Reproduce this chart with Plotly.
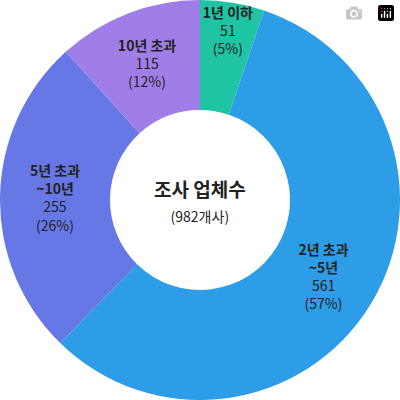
import plotly.graph_objects as go

labels = ["1년 이하", "2년 초과~5년", "5년 초과~10년", "10년 초과"]
display = ["1년 이하", "2년 초과<br>~5년", "5년 초과<br>~10년", "10년 초과"]
values = [51, 561, 255, 115]
colors = ["#1ec4a4", "#2c9de6", "#6678e6", "#a07ee8"]

fig = go.Figure(go.Pie(
    labels=labels, values=values, customdata=display,
    hole=0.45, sort=False, direction="clockwise", rotation=0,
    domain=dict(x=[0, 1], y=[0, 1]),
    marker=dict(colors=colors, line=dict(width=0)),
    texttemplate="<b>%{customdata}</b><br>%{value}<br>(%{percent:.0%})",
    textposition="inside", insidetextorientation="horizontal",
    textfont=dict(family="Noto Sans CJK KR", size=14, color="#222222"),
    hoverinfo="skip", showlegend=False,
))
fig.add_annotation(text="<b>조사 업체수</b><br><span style='font-size:14px'>(982개사)</span>",
                   x=0.5, y=0.5, xref="paper", yref="paper", showarrow=False,
                   font=dict(family="Noto Sans CJK KR", size=19, color="#222222"))
fig.update_layout(width=400, height=400, margin=dict(l=0, r=0, t=0, b=0),
                  paper_bgcolor="white", uniformtext=dict(minsize=12, mode="show"))
fig.write_html("out.html", post_script="document.body.style.margin='0';document.body.style.overflow='hidden';")
